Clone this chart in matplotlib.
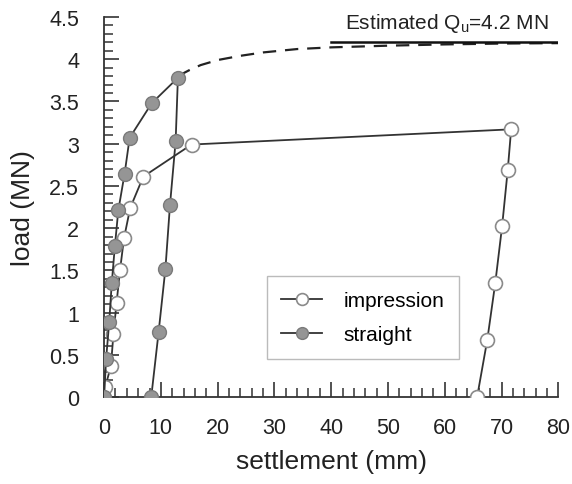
import matplotlib.pyplot as plt
from matplotlib.ticker import MultipleLocator

plt.rcParams['font.family'] = ['Liberation Sans', 'DejaVu Sans']

# impression pile: settlement (mm), load (MN)
imp_s = [0.2, 1.2, 1.65, 2.2, 2.8, 3.5, 4.6, 6.9, 15.4, 71.7, 71.1, 70.1, 68.9, 67.5, 65.7]
imp_q = [0.12, 0.37, 0.75, 1.12, 1.5, 1.88, 2.24, 2.61, 2.99, 3.17, 2.69, 2.02, 1.35, 0.68, 0.0]

# straight pile
str_s = [0.0, 0.35, 0.9, 1.35, 1.9, 2.5, 3.6, 4.5, 8.4, 13.0, 12.6, 11.6, 10.8, 9.6, 8.3]
str_q = [0.0, 0.45, 0.89, 1.35, 1.79, 2.21, 2.64, 3.07, 3.48, 3.78, 3.03, 2.27, 1.52, 0.77, 0.0]

# fitted (dashed) extrapolation
fit_s = [13, 15, 17, 20, 24, 28, 34, 40, 50, 60, 70, 80]
fit_q = [3.80, 3.87, 3.93, 3.99, 4.04, 4.08, 4.12, 4.14, 4.16, 4.175, 4.185, 4.19]

qu_s = [40, 80]
qu_q = [4.2, 4.2]

fig = plt.figure(figsize=(5.72, 4.85), dpi=100)
ax = fig.add_axes([0.182, 0.179, 0.794, 0.784])

line_c = '#333333'
ax.plot(fit_s, fit_q, '--', color='#222222', lw=1.6, dashes=(6, 4), zorder=2)
ax.plot(qu_s, qu_q, '-', color='#111111', lw=1.8, zorder=2)
ax.plot(imp_s, imp_q, '-o', color=line_c, lw=1.3, ms=10,
        mfc='white', mec='#8a8a8a', mew=1.2, label='impression', zorder=3)
ax.plot(str_s, str_q, '-o', color=line_c, lw=1.3, ms=10,
        mfc='#959595', mec='#7a7a7a', mew=1.0, label='straight', zorder=3)

ax.text(60.3, 4.3, 'Estimated Q$_\\mathregular{u}$=4.2 MN', ha='center', va='bottom',
        fontsize=15, color='#222222')

ax.set_xlim(0, 80)
ax.set_ylim(0, 4.5)
ax.set_xticks(range(0, 81, 10))
ax.set_yticks([0, 0.5, 1, 1.5, 2, 2.5, 3, 3.5, 4, 4.5])
ax.set_yticklabels(['0', '0.5', '1', '1.5', '2', '2.5', '3', '3.5', '4', '4.5'])
ax.xaxis.set_minor_locator(MultipleLocator(2))
ax.yaxis.set_minor_locator(MultipleLocator(0.1))
ax.tick_params(which='major', direction='in', length=11, width=1.2, color='#333333',
               labelsize=15.5, labelcolor='#222222')
ax.tick_params(which='minor', direction='in', length=6.5, width=1.1, color='#333333')
ax.tick_params(axis='y', pad=18)
ax.tick_params(axis='x', pad=14)
for sp in ['top', 'right']:
    ax.spines[sp].set_visible(False)
for sp in ['left', 'bottom']:
    ax.spines[sp].set_linewidth(1.3)
    ax.spines[sp].set_color('#333333')
    ax.spines[sp].set_clip_on(False)

ax.set_xlabel('settlement (mm)', fontsize=19, color='#222222', labelpad=8)
ax.set_ylabel('load (MN)', fontsize=19, color='#222222', labelpad=10)

leg = ax.legend(loc='upper left', bbox_to_anchor=(0.358, 0.318), fontsize=15,
                frameon=True, fancybox=False, borderpad=0.7, handlelength=1.95,
                handletextpad=1.05, labelspacing=0.75, borderaxespad=0,
                markerscale=0.85)
leg.get_frame().set_edgecolor('#aaaaaa')
leg.get_frame().set_linewidth(1.0)

fig.savefig('out.png', dpi=100)
